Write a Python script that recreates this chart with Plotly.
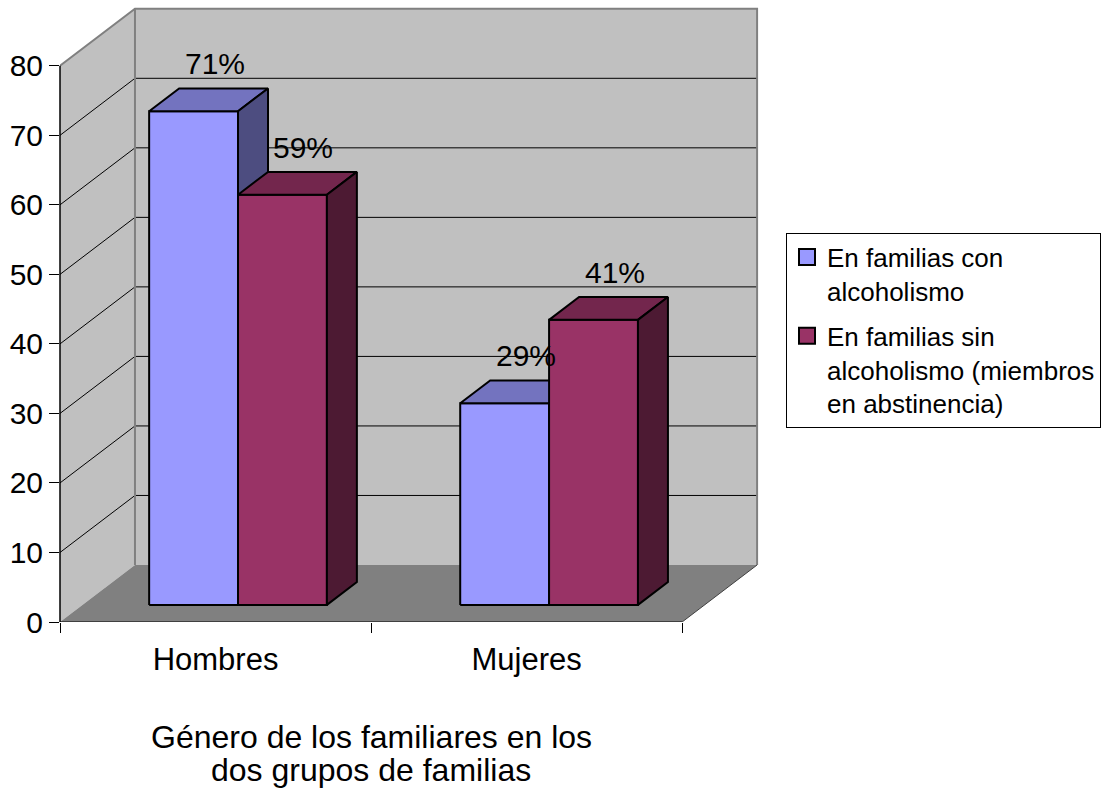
import plotly.graph_objects as go

# ---------------- data ----------------
categories = ["Hombres", "Mujeres"]
series_names = [
    "En familias con<br>alcoholismo",
    "En familias sin<br>alcoholismo (miembros<br>en abstinencia)",
]
values_con = [71, 29]          # En familias con alcoholismo
values_sin = [59, 41]          # En familias sin alcoholismo
labels_con = ["71%", "29%"]
labels_sin = ["59%", "41%"]
y_ticks = [0, 10, 20, 30, 40, 50, 60, 70, 80]
x_title_lines = ["Género de los familiares en los", "dos grupos de familias"]

# ---------------- style / geometry ----------------
FONT = "Arial, Liberation Sans, Helvetica, sans-serif"
Y_MAX = 80
DX = 0.241      # full depth offset in x units
DY = 8.2        # full depth offset in y units
GAP = 1.5       # gap width (relative to bar width)
FRONT_F = 0.3   # bar front plane position (fraction of depth)
DEPTH_F = 0.4   # bar depth (fraction of depth)
NCAT = len(categories)
XB = NCAT + DX

front_cols = ["#9999FF", "#993366"]
top_cols = ["#7373BF", "#73264D"]
side_cols = ["#4D4D80", "#4D1A33"]

series_vals = [values_con, values_sin]
series_labels = [labels_con, labels_sin]
nser = len(series_vals)
bw = 1.0 / (nser + GAP)

fig = go.Figure()


def poly(xs, ys, fill, line_color=None, width=0):
    fig.add_trace(go.Scatter(
        x=list(xs) + [xs[0]], y=list(ys) + [ys[0]], mode="lines", fill="toself",
        fillcolor=fill,
        line=dict(color=line_color if line_color else fill, width=width),
        showlegend=False, hoverinfo="skip"))


def lines(xs, ys, color, width):
    fig.add_trace(go.Scatter(x=xs, y=ys, mode="lines",
                             line=dict(color=color, width=width),
                             showlegend=False, hoverinfo="skip"))


# walls and floor
poly([0, DX, DX, 0], [0, DY, Y_MAX + DY, Y_MAX], "#C0C0C0")
poly([DX, XB, XB, DX], [DY, DY, Y_MAX + DY, Y_MAX + DY], "#C0C0C0")
poly([0, NCAT, XB, DX], [0, 0, DY, DY], "#808080")

# gridlines
gx, gy = [], []
for v in y_ticks[1:-1]:
    gx += [0, DX, XB, None]
    gy += [v, v + DY, v + DY, None]
lines(gx, gy, "#000000", 1)

# wall outlines
lines([0, DX, XB, XB], [Y_MAX, Y_MAX + DY, Y_MAX + DY, DY], "#808080", 2)
lines([DX, DX], [DY, Y_MAX + DY], "#808080", 2)
lines([NCAT, XB], [0, DY], "#404040", 1)
lines([0, NCAT], [0, 0], "#000000", 1.2)

# bars
fdx, fdy = FRONT_F * DX, FRONT_F * DY
bdx, bdy = (FRONT_F + DEPTH_F) * DX, (FRONT_F + DEPTH_F) * DY
annotations = []
for ci in range(NCAT):
    for si in range(nser):
        v = series_vals[si][ci]
        x0 = ci + GAP / 2 * bw + si * bw
        x1 = x0 + bw
        # front
        poly([x0 + fdx, x1 + fdx, x1 + fdx, x0 + fdx],
             [fdy, fdy, fdy + v, fdy + v], front_cols[si], "#000000", 2)
        # top
        poly([x0 + fdx, x1 + fdx, x1 + bdx, x0 + bdx],
             [fdy + v, fdy + v, bdy + v, bdy + v], top_cols[si], "#000000", 2)
        # side
        poly([x1 + fdx, x1 + bdx, x1 + bdx, x1 + fdx],
             [fdy, bdy, bdy + v, fdy + v], side_cols[si], "#000000", 2)
        annotations.append(dict(
            x=(x0 + x1) / 2 + fdx + 0.7 * (bdx - fdx), y=bdy + v + 0.9,
            xref="x", yref="y", text=series_labels[si][ci], showarrow=False,
            yanchor="bottom", xanchor="center",
            font=dict(family=FONT, size=30, color="#000000")))

# legend entries
for si in range(nser):
    fig.add_trace(go.Scatter(
        x=[None], y=[None], mode="markers", name=series_names[si],
        legendgroup="g%d" % si,
        marker=dict(symbol="square", size=16, color=front_cols[si],
                    line=dict(color="#000000", width=2))))

# axis title (two lines, tighter line spacing than plotly's default)
for li, txt in enumerate(x_title_lines):
    annotations.append(dict(
        x=NCAT / 2, y=-0.187 - li * 0.053, xref="x", yref="paper", text=txt,
        showarrow=False, yanchor="middle", xanchor="center",
        font=dict(family=FONT, size=32, color="#000000")))

fig.update_layout(
    width=1107, height=790,
    margin=dict(l=60, r=344, t=6, b=168),
    paper_bgcolor="#FFFFFF", plot_bgcolor="#FFFFFF",
    font=dict(family=FONT, size=30, color="#000000"),
    showlegend=True,
    legend=dict(x=1.0327, y=0.632, xanchor="left", yanchor="top",
                font=dict(family=FONT, size=26, color="#000000"),
                bordercolor="#000000", borderwidth=1, bgcolor="#FFFFFF",
                valign="top", tracegroupgap=8, itemwidth=30),
    annotations=annotations,
    shapes=[dict(type="line", xref="paper", yref="y", x0=0, x1=0, y0=0, y1=Y_MAX,
                 line=dict(color="#000000", width=1.5), layer="above")],
)

fig.update_xaxes(
    range=[0, 2.26], showgrid=False, zeroline=False, showline=False,
    tickvals=[c + 0.5 for c in range(NCAT)], ticktext=categories,
    ticks="outside", ticklen=10, tickcolor="rgba(0,0,0,0)",
    tickfont=dict(family=FONT, size=31, color="#000000"),
    minor=dict(tickvals=list(range(NCAT + 1)), ticks="outside", ticklen=10,
               tickcolor="#000000", tickwidth=1),
)
fig.update_yaxes(
    range=[0, 88.6], showgrid=False, zeroline=False, showline=False,
    tickvals=y_ticks, ticks="outside", ticklen=10, tickcolor="#000000",
    tickwidth=1, tickfont=dict(family=FONT, size=30, color="#000000"),
)

fig.write_html("out.html", config={"displayModeBar": False},
               post_script="document.body.style.margin='0';")
